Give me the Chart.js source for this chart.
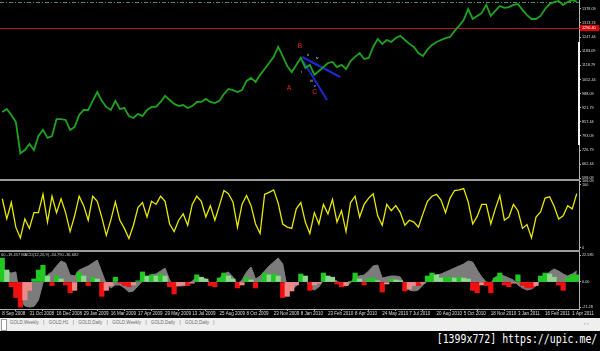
<!DOCTYPE html>
<html>
<head>
<meta charset="utf-8">
<title>GOLD, Daily</title>
<script src="https://cdn.jsdelivr.net/npm/chart.js@4.4.0/dist/chart.umd.min.js"></script>
<style>
    html, body { margin: 0; padding: 0; background: #000; }
    body { width: 600px; height: 351px; position: relative; overflow: hidden; font-family: 'Liberation Sans', Arial, sans-serif; }
    canvas { position: absolute; left: 0; }
    .sep { position: absolute; left: 0; width: 580px; height: 2px; background: #9c9c9c; }
    #axisMark { position: absolute; left: 578px; top: 42px; width: 2px; height: 103px; background: #f2f2f2; }
    #macdInfo { position: absolute; left: 1px; top: 252px; font-size: 4px; color: #cfcfcf; white-space: nowrap; }
    #tabs { position: absolute; left: 0; top: 318px; width: 600px; height: 13px; background: #efefef; }
    #tabs .box { position: absolute; left: 1px; top: 1px; width: 4px; height: 10px; background: #fff; border: 1px solid #9a9a9a; }
    #tabs .row { position: absolute; left: 10px; top: 2px; display: flex; font-size: 4.5px; color: #6a6a6a; white-space: nowrap; }
    #tabs .row span { padding: 0 4.4px; }
    #tabs .row span:first-child { padding-left: 0; }
    #tabs .arrows { position: absolute; left: 584px; top: 2px; font-size: 5px; color: #8a8a8a; }
    #stamp { position: absolute; right: 3px; top: 331px; font-family: 'DejaVu Sans Mono', monospace; font-size: 13px; color: #fff;
             transform: scaleX(0.76); transform-origin: right top; white-space: nowrap; }
</style>
</head>
<body>
<canvas id="priceChart" width="600" height="184" style="top:0"></canvas>
<canvas id="stochChart" width="600" height="74" style="top:176px"></canvas>
<canvas id="macdChart" width="600" height="71" style="top:247px"></canvas>
<div class="sep" style="top:179px"></div>
<div class="sep" style="top:250px"></div>
<div id="axisMark"></div>
<div id="macdInfo">00 -19.457 MACD(12,26,9) -34.790 -36.682</div>
<div id="tabs">
    <div class="box"></div>
    <div class="row">
        <span>GOLD,Weekly</span>|<span>GOLD,H1</span>|<span>GOLD,Daily</span>|<span>GOLD,Weekly</span>|<span>GOLD,Daily</span>|<span>GOLD,Daily</span>|
    </div>
    <div class="arrows">&#8249; &#8250;</div>
</div>
<div id="stamp">[1399x772] https://upic.me/</div>

<script>
// --- Data ---

const dateLabels = ['8 Sep 2008', '31 Oct 2008', '16 Dec 2008', '29 Jan 2009', '16 Mar 2009', '17 Apr 2009',
    '29 May 2009', '13 Jul 2009', '25 Aug 2009', '8 Oct 2009', '23 Nov 2009', '8 Jan 2010', '23 Feb 2010',
    '8 Apr 2010', '24 May 2010', '7 Jul 2010', '20 Aug 2010', '5 Oct 2010', '18 Nov 2010', '3 Jan 2011',
    '16 Feb 2011', '1 Apr 2011'];
const samplesPerLabel = 6; // one date label every 6 samples

// GOLD daily close, sampled
const priceValues = [
    903, 917, 889, 857, 712, 727, 755, 727, 792, 820,
    783, 792, 870, 870, 866, 820, 834, 889, 912, 912,
    954, 995, 954, 926, 912, 954, 917, 921, 884, 875,
    894, 884, 912, 926, 926, 949, 977, 958, 940, 930,
    935, 921, 930, 949, 949, 963, 949, 944, 954, 986,
    1009, 1004, 995, 1004, 1046, 1060, 1041, 1074, 1101, 1129,
    1157, 1203, 1161, 1115, 1087, 1120, 1152, 1106, 1120, 1074,
    1092, 1110, 1129, 1134, 1110, 1120, 1101, 1138, 1157, 1175,
    1147, 1152, 1203, 1240, 1217, 1235, 1226, 1244, 1254, 1235,
    1217, 1203, 1175, 1161, 1191, 1212, 1226, 1235, 1244, 1249,
    1277, 1300, 1327, 1378, 1332, 1346, 1360, 1397, 1346, 1369,
    1392, 1383, 1387, 1397, 1401, 1374, 1350, 1332, 1332, 1346,
    1378, 1401, 1410, 1415, 1397, 1410, 1420, 1412
];
const priceTicks = [1378.09, 1313.74, 1247.44, 1183.09, 1118.79, 1052.44, 988.09, 921.79, 857.44, 793.09, 726.79, 662.44, 598.09];
const priceRange = [593.5, 1419.6];
const bidLevel = 1290.40;
const topLevel = 1410.4;

// Elliott wave marks (sample index, price)
const waveLetters = ['A', 'B', 'C'];
const waveLetterBar = [63.4, 65.8, 69.1];
const waveLetterPrice = [1014, 1207, 995];
const subWaves = ['i', 'ii', 'iii', 'iv', 'v'];
const subWaveBar = [66.1, 67.6, 68.3, 69.6, 69.1];
const subWavePrice = [1087, 1166, 1046, 1152, 1023];
const trendBars = [[66.3, 74.7], [66.5, 71.8]];
const trendPrices = [[1156.5, 1064.2], [1138.1, 958.1]];

// Stochastic %K
const stochValues = [
    78, 46, 72, 33, 16, 46, 31, 56, 56, 85,
    41, 82, 56, 78, 56, 26, 51, 82, 67, 44,
    82, 74, 49, 20, 44, 73, 44, 31, 15, 36,
    64, 72, 49, 74, 69, 82, 74, 38, 26, 44,
    54, 36, 69, 82, 74, 49, 67, 44, 67, 91,
    86, 73, 33, 69, 83, 67, 38, 23, 85, 88,
    92, 71, 38, 33, 31, 62, 72, 41, 23, 56,
    38, 69, 54, 77, 41, 59, 26, 72, 82, 49,
    69, 79, 86, 51, 36, 69, 59, 67, 56, 36,
    44, 41, 33, 54, 74, 82, 85, 76, 56, 79,
    91, 92, 94, 73, 38, 50, 69, 69, 38, 62,
    83, 44, 49, 69, 59, 31, 37, 16, 49, 57,
    79, 81, 66, 46, 51, 67, 62, 86
];
const stochTicks = [106.09, 100, 0];
const stochRange = [-3.2, 106.09];

// MACD(12,26,9): grey line and colour histogram
const macdLine = [
    11.7, 8.4, 7.5, 8.4, -15.1, -20, -21, -20.5, -15.1, -0.8,
    5.9, 8.4, 13.4, 17.6, 15.9, 5.9, 5.0, 10.0, 11.7, 13.4,
    15.9, 18.4, 8.4, -1.7, -5.0, -2.5, -2.5, -5.0, -8.4, -7.5,
    -3.3, 0.8, 3.3, 5.9, 6.7, 9.2, 11.7, 1.7, -4.2, -3.3,
    -3.3, -2.5, 0.8, 4.2, 3.3, 2.5, -0.8, -1.7, 3.3, 6.7,
    8.4, 4.2, -1.7, 1.7, 8.4, 12.6, 2.5, 5.0, 9.2, 13.4,
    16.7, 20.1, 15.1, -5.0, -6.7, -3.3, 2.5, 3.3, -5.0, -6.7,
    -4.2, 1.7, 4.2, 2.5, 0.8, -1.7, -3.3, -0.8, 5.0, 5.0,
    5.9, 9.2, 13.4, 14.2, 3.3, 4.2, 5.0, 5.0, 4.2, -2.5,
    -6.7, -7.5, -6.7, -2.5, 0.8, 4.2, 5.9, 6.7, 8.4, 10.0,
    11.7, 13.4, 15.1, 17.6, 16.7, 10.0, 4.2, 0, -0.8, 4.2,
    5.9, 5.0, 3.3, 1.7, -2.5, -5.0, -6.7, -5.9, -3.3, 1.7,
    5.0, 8.4, 10.9, 9.2, 6.7, 5.0, 6.7, 9.2
];
const macdHist = [
    20, 10, -4, -13, -21, -15, -7, 2.5, 10, 14,
    5, -3, 5, 2.5, -2.5, -9, -7, 8.4, 5, -3,
    4, 2.5, -12, -7, -3, 4, -1, -3, -4, -2.5,
    1, 8.4, 5, 6, 5, 6.7, 5, -4, -10, -3,
    -2.5, -3, -1, 6, 4, 2.5, -3, -4, 3.3, 7.5,
    5, 2.5, -5, -2.5, 4, 1.7, -5, 1, 7.5, 6,
    6.7, 5, -13, -12, -7.5, -2.5, 6.7, 5, -7, -2.5,
    -1, 7.5, 5, 4, -1.7, -4, -3, 0.5, 7.5, 2.5,
    -2.5, 2.5, 3.3, 1, -8.4, -1.7, 2.5, 1.7, 1, -7.5,
    -6, -3, -3, -1, 5, 7.5, 6, 3.3, 4, 4,
    3.3, 4, 3.3, 2.5, -7, -9, -2.5, -3, -9, 3.3,
    7.5, -2.5, -4, -1, 6, -3, -5, -5, -3, 5,
    7.5, 6.7, 4, -2.5, -7, 3.3, 6, 6
];
const macdTicks = [22.585, 0, -21.28];
const macdRange = [-22.6, 25.1];

// --- Styling ---

const FONT = "'Liberation Sans', Arial, sans-serif";
const AXIS = '#b4b4b4';
const TXT = '#dcdcdc';
const sampleIndex = priceValues.map((_, i) => i);

Chart.defaults.font.family = FONT;
Chart.defaults.animation = false;
Chart.defaults.events = [];
Chart.defaults.plugins.legend.display = false;
Chart.defaults.plugins.tooltip.enabled = false;

function barAxis(showDates) {
    return {
        type: 'linear',
        min: -0.5,
        max: priceValues.length - 0.5,
        offset: false,
        display: showDates,
        grid: { drawOnChartArea: false, tickLength: 2, color: AXIS },
        border: { color: AXIS },
        afterBuildTicks: s => { s.ticks = dateLabels.map((_, k) => ({ value: k * samplesPerLabel })); },
        afterFit: s => {
            if (showDates) s.height = 9;
            s.paddingLeft = 0;
            s.paddingRight = 0;
        },
        ticks: {
            align: 'start', autoSkip: false, maxRotation: 0, padding: 0,
            color: TXT, font: { size: 4.5 },
            callback: v => dateLabels[Math.round(v / samplesPerLabel)]
        }
    };
}

function valueAxis(range, tickValues, fmt) {
    return {
        type: 'linear',
        position: 'right',
        min: range[0],
        max: range[1],
        grid: { drawOnChartArea: false, tickLength: 2, color: AXIS },
        border: { color: AXIS },
        afterBuildTicks: s => { s.ticks = tickValues.map(v => ({ value: v })); },
        afterFit: s => { s.width = 21; s.paddingTop = 0; s.paddingBottom = 0; },
        ticks: { autoSkip: false, padding: 1, color: TXT, font: { size: 3.8 }, callback: fmt }
    };
}

// Level lines, bid label and wave labels on the price window
const priceMarks = {
    id: 'priceMarks',
    beforeDatasetsDraw(chart) {
        const { ctx, chartArea, scales: { y } } = chart;
        ctx.save();
        let py = Math.round(y.getPixelForValue(topLevel)) + 0.5;
        ctx.strokeStyle = '#3f8f6a';
        ctx.lineWidth = 1;
        ctx.setLineDash([4, 2, 1, 2]);
        ctx.beginPath(); ctx.moveTo(chartArea.left, py); ctx.lineTo(chartArea.right, py); ctx.stroke();

        ctx.setLineDash([]);
        py = Math.round(y.getPixelForValue(bidLevel)) + 0.5;
        ctx.strokeStyle = '#b3121f';
        ctx.beginPath(); ctx.moveTo(chartArea.left, py); ctx.lineTo(chart.width, py); ctx.stroke();
        ctx.restore();
    },
    afterDatasetsDraw(chart) {
        const { ctx, chartArea, scales: { x, y } } = chart;
        ctx.save();
        ctx.textAlign = 'center';
        ctx.textBaseline = 'middle';

        ctx.fillStyle = '#e82020';
        ctx.font = `7px ${FONT}`;
        waveLetters.forEach((t, k) => {
            ctx.fillText(t, x.getPixelForValue(waveLetterBar[k]), y.getPixelForValue(waveLetterPrice[k]));
        });

        ctx.fillStyle = '#d8d8f2';
        ctx.font = `4px ${FONT}`;
        subWaves.forEach((t, k) => {
            ctx.fillText(t, x.getPixelForValue(subWaveBar[k]), y.getPixelForValue(subWavePrice[k]));
        });

        // bid price tag on the axis
        const py = Math.round(y.getPixelForValue(bidLevel));
        ctx.fillStyle = '#e00000';
        ctx.fillRect(chartArea.right + 1, py - 3, 19, 6);
        ctx.fillStyle = '#fff';
        ctx.textAlign = 'left';
        ctx.font = `3.8px ${FONT}`;
        ctx.fillText(bidLevel.toFixed(2), chartArea.right + 3, py + 0.3);
        ctx.restore();
    }
};

new Chart(document.getElementById('priceChart'), {
    type: 'line',
    data: {
        labels: sampleIndex,
        datasets: [
            {
                data: priceValues,
                borderColor: '#1fa31f',
                borderWidth: 1.8,
                pointRadius: 0,
                tension: 0
            },
            ...trendBars.map((bars, k) => ({
                data: bars.map((b, j) => ({ x: b, y: trendPrices[k][j] })),
                borderColor: '#1a2ad0',
                borderWidth: 2,
                pointRadius: 0
            }))
        ]
    },
    options: {
        responsive: false,
        devicePixelRatio: 1,
        layout: { padding: { top: 0, bottom: 5, left: 0, right: 0 } },
        scales: {
            x: barAxis(false),
            y: valueAxis(priceRange, priceTicks, v => v.toFixed(2))
        }
    },
    plugins: [priceMarks]
});

new Chart(document.getElementById('stochChart'), {
    type: 'line',
    data: {
        labels: sampleIndex,
        datasets: [{
            data: stochValues,
            borderColor: '#e8e800',
            borderWidth: 1.3,
            pointRadius: 0,
            tension: 0
        }]
    },
    options: {
        responsive: false,
        devicePixelRatio: 1,
        layout: { padding: { top: 5, bottom: 0, left: 0, right: 0 } },
        scales: {
            x: barAxis(false),
            y: valueAxis(stochRange, stochTicks, v => String(v))
        }
    }
});

// colour the histogram by sign and direction
function histColor(ctx) {
    const i = ctx.dataIndex;
    const v = macdHist[i];
    const prev = i > 0 ? macdHist[i - 1] : v;
    if (v >= 0) return v >= prev ? '#22c822' : '#8fd68f';
    return v <= prev ? '#f01010' : '#ec8a8a';
}

new Chart(document.getElementById('macdChart'), {
    type: 'line',
    data: {
        labels: sampleIndex,
        datasets: [
            {
                type: 'bar',
                data: macdHist,
                backgroundColor: histColor,
                barPercentage: 1,
                categoryPercentage: 1,
                order: 0
            },
            {
                data: macdLine,
                borderColor: '#7c7c7c',
                backgroundColor: '#7c7c7c',
                borderWidth: 1,
                fill: 'origin',
                pointRadius: 0,
                tension: 0,
                order: 1
            }
        ]
    },
    options: {
        responsive: false,
        devicePixelRatio: 1,
        layout: { padding: { top: 5, bottom: 0, left: 0, right: 0 } },
        scales: {
            x: barAxis(true),
            y: valueAxis(macdRange, macdTicks, v => (v === 0 ? '0.00' : String(v)))
        }
    }
});
</script>
</body>
</html>
